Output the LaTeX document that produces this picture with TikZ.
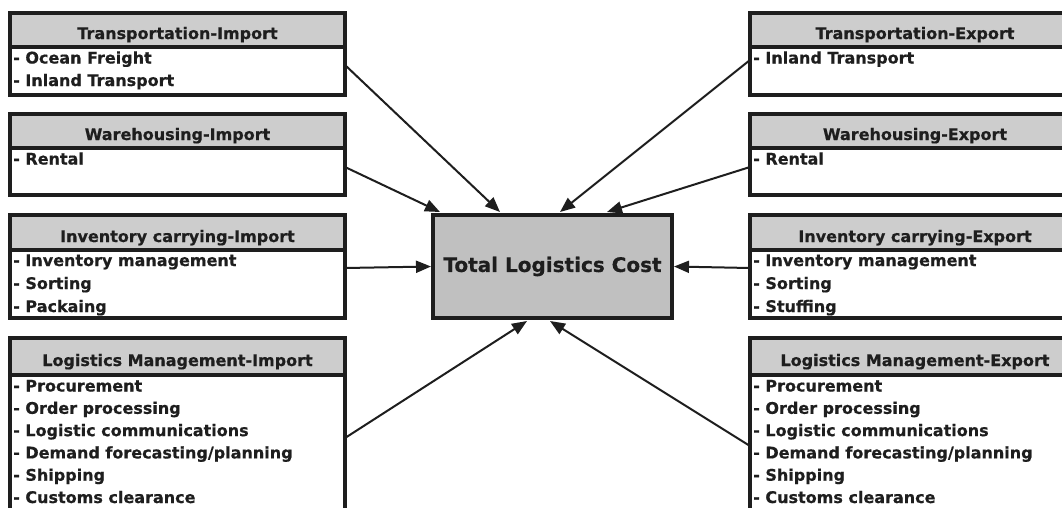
\documentclass[tikz,border=0pt]{standalone}
\usepackage{fontspec}
\setmainfont{DejaVu Sans}[BoldFeatures={FakeBold=0.6}]
\usetikzlibrary{arrows.meta}
\definecolor{hdrgray}{RGB}{205,205,205}
\definecolor{cgray}{RGB}{192,192,192}
\definecolor{ink}{RGB}{30,30,30}
\begin{document}
\begin{tikzpicture}[x=1pt,y=-1pt,
  ybox/.style={draw=ink, line width=4.5pt, fill=white, inner sep=0pt, outer sep=0pt, anchor=north west},
  hdrbox/.style={path picture={
      \fill[hdrgray] (path picture bounding box.north west) rectangle ([yshift=-#1]path picture bounding box.north east);
      \draw[ink, line width=3.8pt] ([yshift=-#1]path picture bounding box.north west) -- ([yshift=-#1]path picture bounding box.north east);}},
  hdr/.style={anchor=base, inner sep=0pt, text=ink, font=\bfseries\fontsize{16}{18}\selectfont},
  item/.style={anchor=base west, inner sep=0pt, text=ink, font=\bfseries\fontsize{16}{18}\selectfont},
  arr/.style={ink, line width=2pt, -{Triangle[length=15pt,width=12pt]}}
]
\clip (0,0) rectangle (1062,507);
\fill[white] (0,0) rectangle (1062,507);

% ---------- left boxes ----------
\node[ybox, hdrbox=34pt, minimum width=335pt, minimum height=82pt] (ti) at (10,13) {};
\node[hdr] (tih) at ([yshift=-26pt]ti.north) {Transportation-Import};
\foreach \t [count=\i] in {- Ocean Freight,- Inland Transport}
  \node[item] (ti\i) at ([xshift=3pt,yshift={-50.5pt-(\i-1)*22.5pt}]ti.north west) {\t};

\node[ybox, hdrbox=34pt, minimum width=335pt, minimum height=81pt] (wi) at (10,114) {};
\node[hdr] (wih) at ([yshift=-26pt]wi.north) {Warehousing-Import};
\node[item] (wi1) at ([xshift=3pt,yshift=-50.5pt]wi.north west) {- Rental};

\node[ybox, hdrbox=35pt, minimum width=335pt, minimum height=103pt] (ii) at (10,215) {};
\node[hdr] (iih) at ([yshift=-27pt]ii.north) {Inventory carrying-Import};
\foreach \t [count=\i] in {- Inventory management,- Sorting,- Packaing}
  \node[item] (ii\i) at ([xshift=3pt,yshift={-51pt-(\i-1)*23pt}]ii.north west) {\t};

\node[ybox, hdrbox=37pt, minimum width=335pt, minimum height=185pt] (li) at (10,338) {};
\node[hdr] (lih) at ([yshift=-28pt]li.north) {Logistics Management-Import};
\foreach \t [count=\i] in {- Procurement,- Order processing,- Logistic communications,- Demand forecasting/planning,- Shipping,- Customs clearance}
  \node[item] (li\i) at ([xshift=3pt,yshift={-53.5pt-(\i-1)*22.3pt}]li.north west) {\t};

% ---------- right boxes ----------
\node[ybox, hdrbox=34pt, minimum width=330pt, minimum height=82pt] (te) at (750,13) {};
\node[hdr] (teh) at ([yshift=-26pt]te.north) {Transportation-Export};
\node[item] (te1) at ([xshift=3pt,yshift=-50.5pt]te.north west) {- Inland Transport};

\node[ybox, hdrbox=34pt, minimum width=330pt, minimum height=81pt] (we) at (750,114) {};
\node[hdr] (weh) at ([yshift=-26pt]we.north) {Warehousing-Export};
\node[item] (we1) at ([xshift=3pt,yshift=-50.5pt]we.north west) {- Rental};

\node[ybox, hdrbox=35pt, minimum width=330pt, minimum height=103pt] (ie) at (750,215) {};
\node[hdr] (ieh) at ([yshift=-27pt]ie.north) {Inventory carrying-Export};
\foreach \t [count=\i] in {- Inventory management,- Sorting,- Stuffing}
  \node[item] (ie\i) at ([xshift=3pt,yshift={-51pt-(\i-1)*23pt}]ie.north west) {\t};

\node[ybox, hdrbox=37pt, minimum width=330pt, minimum height=185pt] (le) at (750,338) {};
\node[hdr] (leh) at ([yshift=-28pt]le.north) {Logistics Management-Export};
\foreach \t [count=\i] in {- Procurement,- Order processing,- Logistic communications,- Demand forecasting/planning,- Shipping,- Customs clearance}
  \node[item] (le\i) at ([xshift=3pt,yshift={-53.5pt-(\i-1)*22.3pt}]le.north west) {\t};

% ---------- centre ----------
\node[ybox, fill=cgray, minimum width=239pt, minimum height=103pt] (tlc) at (433,215) {};
\node[inner sep=0pt, text=ink, font=\bfseries\fontsize{20}{22}\selectfont] (tlct) at (tlc.center) {Total Logistics Cost};

% ---------- connectors ----------
\draw[arr] ([yshift=-52pt]ti.north east) -- ([xshift=67pt,yshift=3pt]tlc.north west);
\draw[arr] ([yshift=-53pt]wi.north east) -- ([xshift=7pt,yshift=3pt]tlc.north west);
\draw[arr] ([yshift=-53pt]ii.north east) -- ([xshift=-2pt]tlc.west);
\draw[arr] ([yshift=-100pt]li.north east) -- ([xshift=94pt,yshift=-3pt]tlc.south west);
\draw[arr] ([yshift=-47pt]te.north west) -- ([xshift=127pt,yshift=3pt]tlc.north west);
\draw[arr] ([yshift=-53pt]we.north west) -- ([xshift=174pt,yshift=3pt]tlc.north west);
\draw[arr] ([yshift=-53pt]ie.north west) -- ([xshift=2pt]tlc.east);
\draw[arr] ([yshift=-108pt]le.north west) -- ([xshift=117pt,yshift=-3pt]tlc.south west);
\end{tikzpicture}
\end{document}
